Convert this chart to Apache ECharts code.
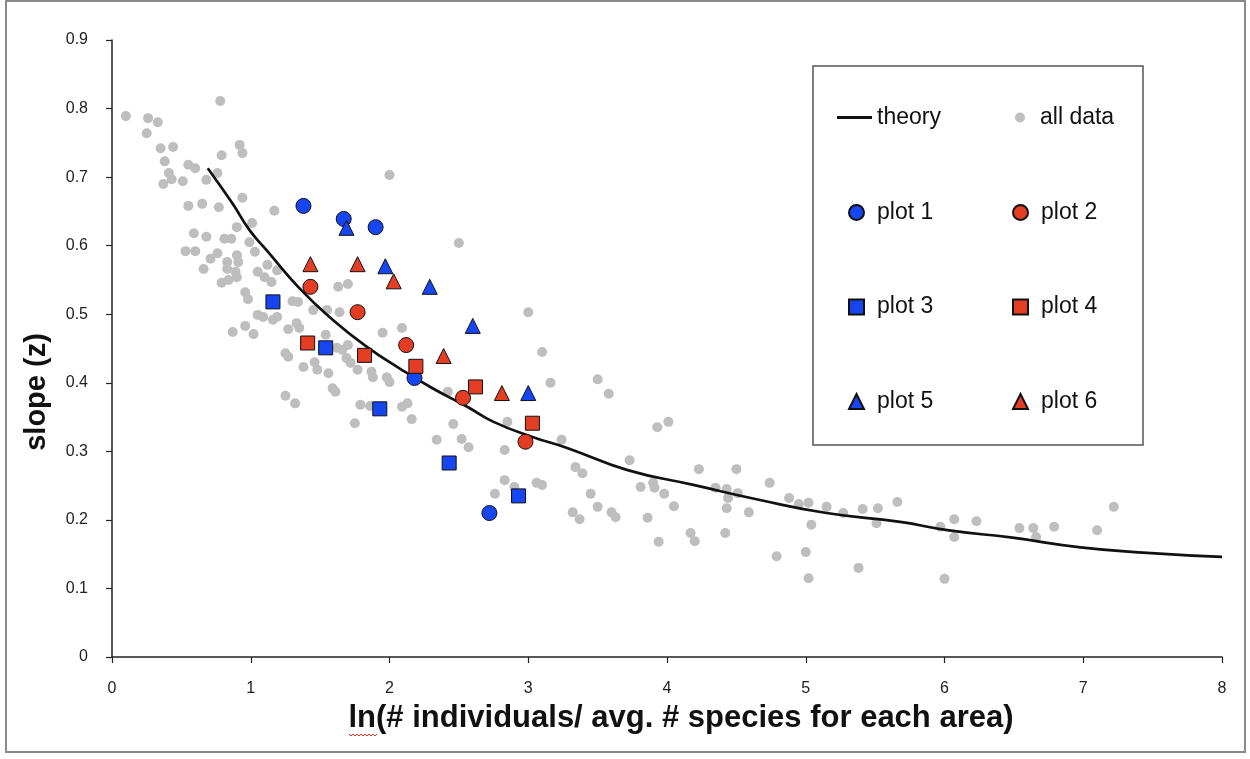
<!DOCTYPE html>
<html>
<head>
<meta charset="utf-8">
<style>
  html, body { margin: 0; padding: 0; background: #fff; }
  #chart { width: 1250px; height: 759px; }
</style>
<script src="https://cdn.jsdelivr.net/npm/echarts@6/dist/echarts.min.js"></script>
</head>
<body>
<div id="chart"></div>
<script>
// values
const allData = [
  [0.10,0.789],[0.26,0.786],[0.33,0.780],[0.25,0.764],[0.78,0.811],[0.35,0.742],[0.44,0.744],[0.92,0.747],[0.94,0.735],[0.79,0.732],
  [0.38,0.723],[0.55,0.718],[0.60,0.713],[0.41,0.706],[0.43,0.697],[0.37,0.690],[0.51,0.694],[0.68,0.696],[0.76,0.706],[0.94,0.670],
  [0.55,0.658],[0.65,0.661],[0.77,0.656],[1.17,0.651],[1.01,0.633],[0.90,0.627],[0.59,0.618],[0.68,0.613],[0.81,0.610],[0.86,0.610],
  [0.99,0.605],[0.53,0.592],[0.60,0.592],[0.76,0.589],[0.90,0.586],[1.03,0.591],[2.00,0.703],[2.50,0.604],[0.71,0.581],[0.91,0.576],
  [0.83,0.576],[0.66,0.566],[0.83,0.566],[0.89,0.562],[0.90,0.554],[0.79,0.546],[0.84,0.550],[1.05,0.562],[1.10,0.554],[1.15,0.547],
  [1.12,0.572],[1.19,0.564],[0.96,0.532],[0.98,0.522],[1.30,0.519],[1.34,0.518],[1.05,0.499],[1.09,0.496],[1.16,0.492],[1.19,0.496],
  [1.27,0.478],[1.33,0.487],[1.35,0.480],[0.87,0.474],[0.96,0.483],[1.02,0.471],[1.25,0.443],[1.27,0.438],[1.25,0.381],[1.32,0.370],
  [1.45,0.506],[1.55,0.506],[1.64,0.503],[1.63,0.540],[1.70,0.544],[1.54,0.470],[1.62,0.451],[1.38,0.423],[1.46,0.430],[1.48,0.419],
  [1.56,0.414],[1.66,0.448],[1.70,0.455],[1.69,0.436],[1.72,0.429],[1.77,0.419],[1.87,0.416],[1.88,0.408],[1.98,0.408],[2.00,0.401],
  [1.95,0.473],[2.09,0.480],[1.59,0.392],[1.61,0.387],[1.79,0.368],[1.86,0.366],[2.09,0.365],[2.13,0.370],[1.75,0.341],[2.16,0.347],
  [2.34,0.317],[3.00,0.503],[3.10,0.445],[3.16,0.400],[3.50,0.405],[3.58,0.384],[2.42,0.387],[2.46,0.340],[2.52,0.318],[2.57,0.306],
  [2.85,0.343],[2.83,0.302],[3.24,0.317],[3.73,0.287],[3.34,0.277],[3.39,0.268],[3.81,0.248],[2.83,0.258],[2.90,0.248],[3.06,0.254],
  [3.10,0.251],[2.76,0.238],[3.45,0.238],[3.50,0.219],[3.60,0.211],[3.63,0.204],[3.32,0.211],[3.37,0.201],[3.93,0.335],[4.01,0.343],
  [4.23,0.274],[4.50,0.274],[4.74,0.254],[3.90,0.254],[3.91,0.247],[3.98,0.238],[3.86,0.203],[4.05,0.220],[4.35,0.247],[4.43,0.245],
  [4.51,0.239],[4.44,0.232],[4.43,0.217],[4.59,0.211],[4.88,0.232],[4.95,0.223],[5.02,0.225],[5.15,0.219],[5.27,0.210],[5.41,0.216],
  [5.52,0.217],[5.66,0.226],[5.04,0.193],[5.51,0.195],[4.17,0.181],[4.20,0.169],[3.94,0.168],[4.42,0.181],[4.79,0.147],[5.00,0.153],
  [5.02,0.115],[5.38,0.130],[5.97,0.190],[6.07,0.201],[6.07,0.175],[6.23,0.198],[6.00,0.114],[6.54,0.188],[6.64,0.188],[6.66,0.175],
  [6.79,0.190],[7.10,0.185],[7.22,0.219]
]

const theory = [
  [0.69,0.713],[0.87,0.661],[0.99,0.623],[1.12,0.592],[1.35,0.538],[1.59,0.492],[1.84,0.452],[2.08,0.420],
  [2.31,0.392],[2.56,0.365],[2.75,0.343],[3.03,0.321],[3.28,0.305],[3.71,0.273],[4.19,0.251],[4.67,0.229],
  [5.15,0.210],[5.68,0.197],[6.02,0.185],[6.49,0.174],[6.98,0.160],[7.46,0.152],[8.00,0.146]
]

const plot1 = [[1.38,0.658],[1.67,0.639],[1.90,0.627],[2.18,0.407],[2.72,0.210]]
const plot2 = [[1.43,0.540],[1.77,0.503],[2.12,0.455],[2.53,0.378],[2.98,0.314]]
const plot3 = [[1.16,0.518],[1.54,0.451],[1.93,0.362],[2.43,0.283],[2.93,0.235]]
const plot4 = [[1.41,0.458],[1.82,0.440],[2.19,0.424],[2.62,0.394],[3.03,0.341]]
const plot5 = [[1.69,0.626],[1.97,0.570],[2.29,0.540],[2.60,0.483],[3.00,0.385]]
const plot6 = [[1.43,0.573],[1.77,0.573],[2.03,0.548],[2.39,0.439],[2.81,0.385]]

const xMin = 0, xMax = 8, xStep = 1
const yMin = 0, yMax = 0.9, yStep = 0.1

const BLUE = '#1546f2'
const RED = '#e33d24'
const GRAY = '#bebebe'
const FONT = 'Liberation Sans, Arial, sans-serif'

const chart = echarts.init(document.getElementById('chart'))

const axisCommon = {
  axisLine: { show: true, onZero: false, lineStyle: { color: '#222', width: 1.5 } },
  axisTick: { show: true, length: 6, lineStyle: { color: '#222', width: 1.2 } },
  splitLine: { show: false },
  axisLabel: { fontSize: 16, color: '#222', fontFamily: FONT, margin: 24 }
}

const markerSeries = (name, data, symbol, color, size) => ({
  name,
  type: 'scatter',
  data,
  symbol,
  symbolSize: size,
  z: 5,
  itemStyle: { color, opacity: 1, borderColor: '#111', borderWidth: 1 }
})

const legendText = (padLeft) => ({
  fontSize: 23, color: '#111', fontFamily: FONT, lineHeight: 23, padding: [0, 0, 0, padLeft]
})

const option = {
  animation: false,
  backgroundColor: '#fff',
  grid: { left: 112, right: 28, top: 40, bottom: 102 },
  xAxis: { type: 'value', min: xMin, max: xMax, interval: xStep, ...axisCommon },
  yAxis: { type: 'value', min: yMin, max: yMax, interval: yStep, ...axisCommon },
  legend: [
    {
      orient: 'vertical', left: 832, top: 101, padding: 5, icon: 'rect',
      itemWidth: 35, itemHeight: 3, textStyle: legendText(0),
      data: ['theory']
    },
    {
      orient: 'vertical', left: 843, top: 196, padding: 5, itemGap: 71.5,
      itemWidth: 15, itemHeight: 15, textStyle: legendText(8),
      data: ['plot 1', 'plot 3', 'plot 5']
    },
    {
      orient: 'vertical', left: 1010, top: 101, padding: 5,
      itemWidth: 10, itemHeight: 10, textStyle: legendText(10),
      data: ['all data']
    },
    {
      orient: 'vertical', left: 1007, top: 196, padding: 5, itemGap: 71.5,
      itemWidth: 15, itemHeight: 15, textStyle: legendText(8),
      data: ['plot 2', 'plot 4', 'plot 6']
    }
  ],
  graphic: [
    {
      type: 'rect', z: 0, silent: true,
      shape: { x: 6, y: 1, width: 1239, height: 751 },
      style: { fill: 'none', stroke: '#8a8a8a', lineWidth: 2 }
    },
    {
      type: 'rect', z: 1, silent: true,
      shape: { x: 813, y: 66, width: 330, height: 379 },
      style: { fill: '#fff', stroke: '#555', lineWidth: 1.5 }
    },
    {
      type: 'text', x: 37, y: 392, rotation: Math.PI / 2, silent: true,
      style: {
        text: 'slope (z)', fontSize: 29, fontWeight: 'bold', fill: '#111',
        fontFamily: FONT, align: 'center', verticalAlign: 'middle'
      }
    },
    {
      type: 'text', x: 681, y: 718, silent: true,
      style: {
        text: 'ln(# individuals/ avg. # species for each area)', fontSize: 31, fontWeight: 'bold', fill: '#111',
        fontFamily: FONT, align: 'center', verticalAlign: 'middle'
      }
    },
    {
      type: 'polyline', silent: true,
      shape: { points: [[349,734],[351,736],[353,734],[355,736],[357,734],[359,736],[361,734],[363,736],[365,734],[367,736],[369,734],[371,736],[373,734],[375,736],[377,734]] },
      style: { stroke: '#e03020', lineWidth: 1, fill: 'none' }
    }
  ],
  series: [
    {
      name: 'all data', type: 'scatter', data: allData,
      symbol: 'circle', symbolSize: 10, z: 2,
      itemStyle: { color: GRAY, opacity: 1 }
    },
    {
      name: 'theory', type: 'line', data: theory,
      symbol: 'none', smooth: true, z: 3,
      lineStyle: { color: '#111', width: 2.7 },
      itemStyle: { color: '#111' }
    },
    markerSeries('plot 1', plot1, 'circle', BLUE, 15),
    markerSeries('plot 2', plot2, 'circle', RED, 15),
    markerSeries('plot 3', plot3, 'rect', BLUE, 14),
    markerSeries('plot 4', plot4, 'rect', RED, 14),
    markerSeries('plot 5', plot5, 'triangle', BLUE, 15),
    markerSeries('plot 6', plot6, 'triangle', RED, 15)
  ]
}

chart.setOption(option)
window.addEventListener('resize', () => chart.resize())
</script>
</body>
</html>
